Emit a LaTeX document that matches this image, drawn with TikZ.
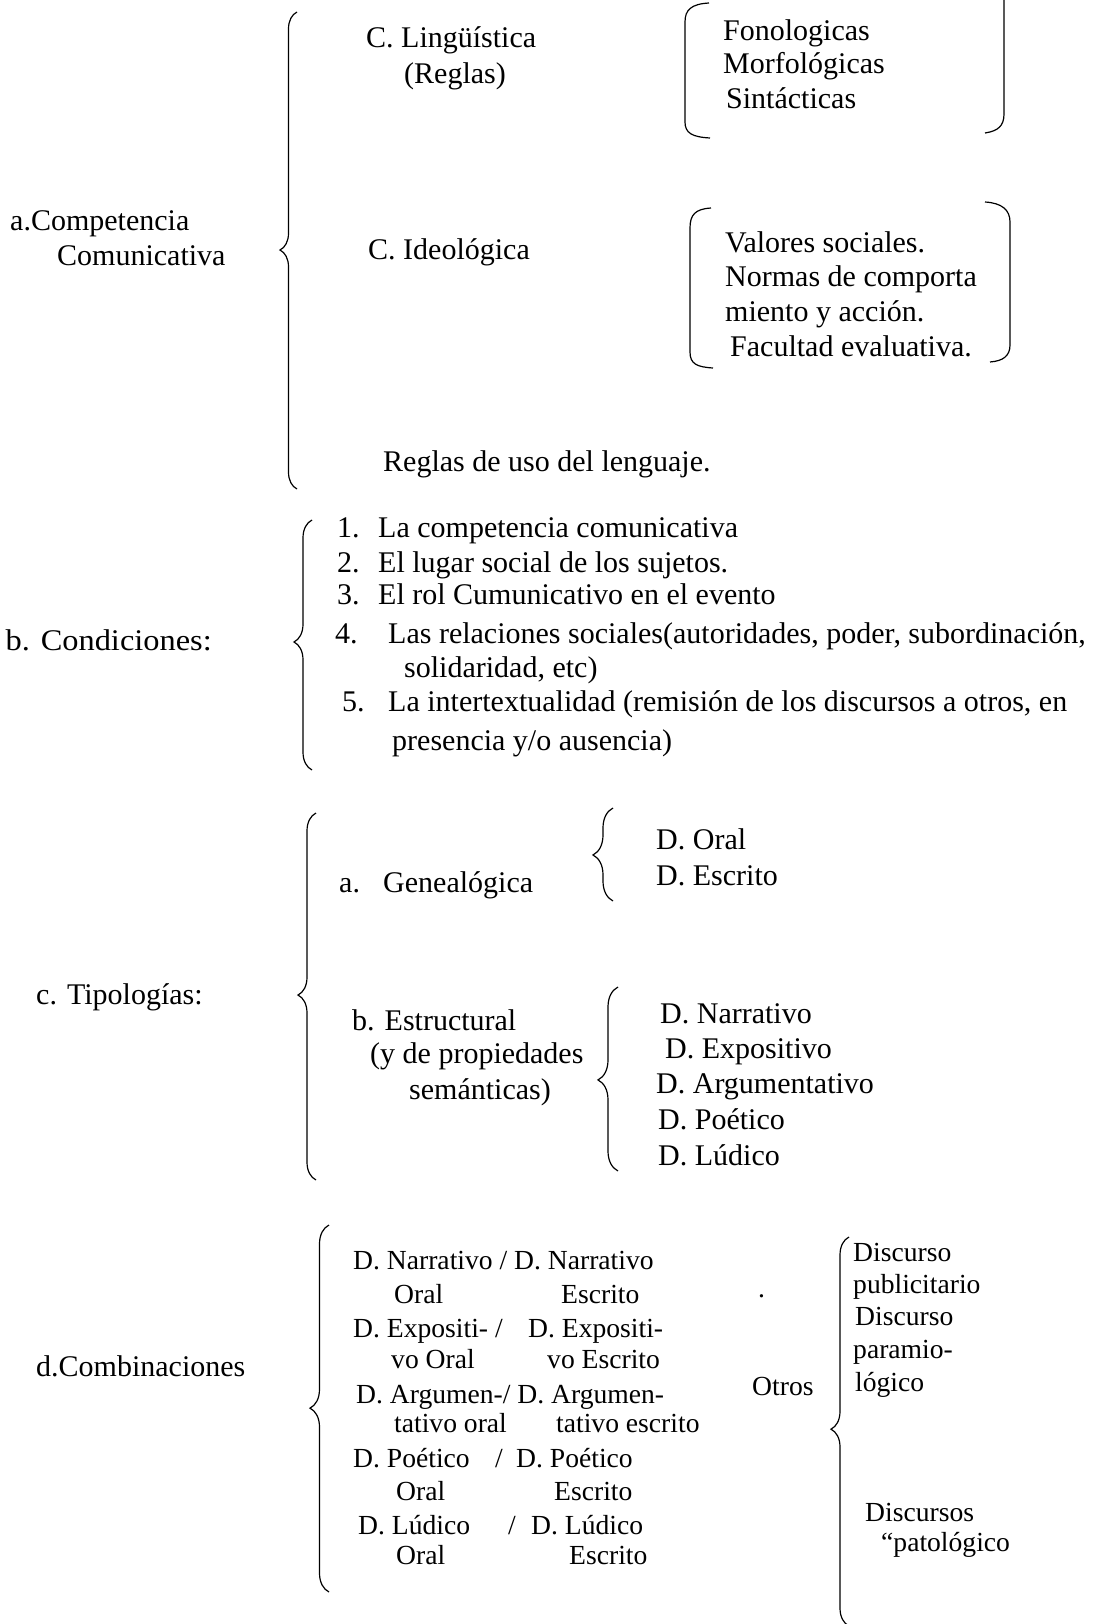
\documentclass[tikz,border=0pt]{standalone}
\usepackage{fontspec}
\setmainfont{Liberation Serif}
\usetikzlibrary{decorations.pathreplacing}
\newcommand\szA{\fontsize{30}{34}\selectfont}
\newcommand\szD{\fontsize{27.6}{32}\selectfont}
\tikzset{
  txt/.style={anchor=base west, inner sep=0pt, font=\szA},
  txd/.style={anchor=base west, inner sep=0pt, font=\szD},
  brc/.style={decorate, line width=1.2pt, decoration={brace, amplitude=#1}},
  brk/.style={line width=1.2pt},
}
\begin{document}
\begin{tikzpicture}[x=1pt, y=-1pt]
\useasboundingbox (0,0) rectangle (1095,1624);
% ---------- a. Competencia comunicativa ----------
\node[txt] (aComp) at (10,230) {a.Competencia};
\node[txt] (aCom2) at (57,265) {Comunicativa};
\draw[brc=17pt, decoration={aspect=0.501}] (297,489) -- (297,12);
\node[txt] (cLing) at (366,48) {C. Lingüística};
\node[txt] (cReg) at (404,84) {(Reglas)};
\node[txt] (cIdeo) at (368,259) {C. Ideológica};
\node[txt] (reglas) at (383,471) {Reglas de uso del lenguaje.};
% box 1
\draw[brk] (709,3) .. controls (691,4) and (685,10) .. (685,22) -- (685,122) .. controls (685,133) and (692,137) .. (710,138);
\draw[brk] (1004,0) -- (1004,114) .. controls (1004,126) and (998,131) .. (985,133);
\node[txt] (fon) at (723,41) {Fonologicas};
\node[txt] (mor) at (723,74) {Morfológicas};
\node[txt] (sin) at (726,109) {Sintácticas};
% box 2
\draw[brk] (711,208) .. controls (695,209) and (690,215) .. (690,228) -- (690,352) .. controls (690,364) and (697,367) .. (713,368);
\draw[brk] (985,202) .. controls (1002,203) and (1010,210) .. (1010,222) -- (1010,345) .. controls (1010,356) and (1003,361) .. (990,362);
\node[txt] (val) at (725,252) {Valores sociales.};
\node[txt] (nor) at (725,286) {Normas de comporta};
\node[txt] (mie) at (725,321) {miento y acción.};
\node[txt] (fac) at (730,356) {Facultad evaluativa.};
% ---------- b. Condiciones ----------
\node[txt, anchor=base east, xscale=1.08] (bCond) at (212,650) {b. Condiciones:};
\draw[brc=18pt, decoration={aspect=0.512}] (312,770) -- (312,520);
\node[txt] (n1) at (337,537) {1.};
\node[txt] (t1) at (378,537) {La competencia comunicativa};
\node[txt] (n2) at (337,572) {2.};
\node[txt] (t2) at (378,572) {El lugar social de los sujetos.};
\node[txt] (n3) at (337,604) {3.};
\node[txt] (t3) at (378,604) {El rol Cumunicativo en el evento};
\node[txt] (n4) at (335,643) {4.};
\node[txt] (t4) at (388,643) {Las relaciones sociales(autoridades, poder, subordinación,};
\node[txt] (t4b) at (404,677) {solidaridad, etc)};
\node[txt] (n5) at (342,711) {5.};
\node[txt] (t5) at (388,711) {La intertextualidad (remisión de los discursos a otros, en};
\node[txt] (t5b) at (392,750) {presencia y/o ausencia)};
% ---------- c. Tipologias ----------
\node[txt] (cTip) at (36,1004) {c. Tipologías:};
\draw[brc=18pt, decoration={aspect=0.504}] (316,1180) -- (316,813);
\node[txt] (ga) at (339,892) {a.};
\node[txt] (gen) at (383,892) {Genealógica};
\draw[brc=20pt, decoration={aspect=0.495}] (613,901) -- (613,808);
\node[txt] (dOral) at (656,849) {D. Oral};
\node[txt] (dEsc) at (656,885) {D. Escrito};
\node[txt] (est) at (352,1030) {b. Estructural};
\node[txt] (est2) at (370,1063) {(y de propiedades};
\node[txt] (est3) at (409,1099) {semánticas)};
\draw[brc=20pt, decoration={aspect=0.495}] (618,1171) -- (618,987);
\node[txt] (dNar) at (660,1023) {D. Narrativo};
\node[txt] (dExp) at (665,1058) {D. Expositivo};
\node[txt] (dArg) at (656,1093) {D. Argumentativo};
\node[txt] (dPoe) at (658,1129) {D. Poético};
\node[txt] (dLud) at (658,1165) {D. Lúdico};
% ---------- d. Combinaciones ----------
\node[txt] (dComb) at (36,1376) {d.Combinaciones};
\draw[brc=19pt, decoration={aspect=0.501}] (329,1592) -- (329,1225);
\node[txd] (r1a) at (353,1269) {D. Narrativo / D. Narrativo};
\node[txd] (r1b) at (394,1303) {Oral};
\node[txd] (r1c) at (561,1303) {Escrito};
\node[txd] (r2a) at (353,1337) {D. Expositi- /};
\node[txd] (r2b) at (528,1337) {D. Expositi-};
\node[txd] (r2c) at (391,1368) {vo Oral};
\node[txd] (r2d) at (547,1368) {vo Escrito};
\node[txd] (r3a) at (356,1403) {D. Argumen-/ D. Argumen-};
\node[txd] (r3b) at (394,1432) {tativo oral};
\node[txd] (r3c) at (556,1432) {tativo escrito};
\node[txd] (r4a) at (353,1467) {D. Poético};
\node[txd] (r4s) at (495,1467) {/};
\node[txd] (r4b) at (516,1467) {D. Poético};
\node[txd] (r4c) at (396,1500) {Oral};
\node[txd] (r4d) at (554,1500) {Escrito};
\node[txd] (r5a) at (358,1534) {D. Lúdico};
\node[txd] (r5s) at (508,1534) {/};
\node[txd] (r5b) at (531,1534) {D. Lúdico};
\node[txd] (r5c) at (396,1564) {Oral};
\node[txd] (r5d) at (569,1564) {Escrito};
\node[txd] (dot) at (758,1297) {.};
\node[txd] (otros) at (752,1395) {Otros};
\draw[brc=18pt, decoration={aspect=0.506}] (849,1626) -- (849,1237);
\node[txd] (o1) at (853,1261) {Discurso};
\node[txd] (o2) at (853,1293) {publicitario};
\node[txd] (o3) at (855,1325) {Discurso};
\node[txd] (o4) at (853,1358) {paramio-};
\node[txd] (o5) at (855,1391) {lógico};
\node[txd] (o6) at (865,1521) {Discursos};
\node[txd] (o7) at (881,1551) {“patológico};
\end{tikzpicture}
\end{document}
